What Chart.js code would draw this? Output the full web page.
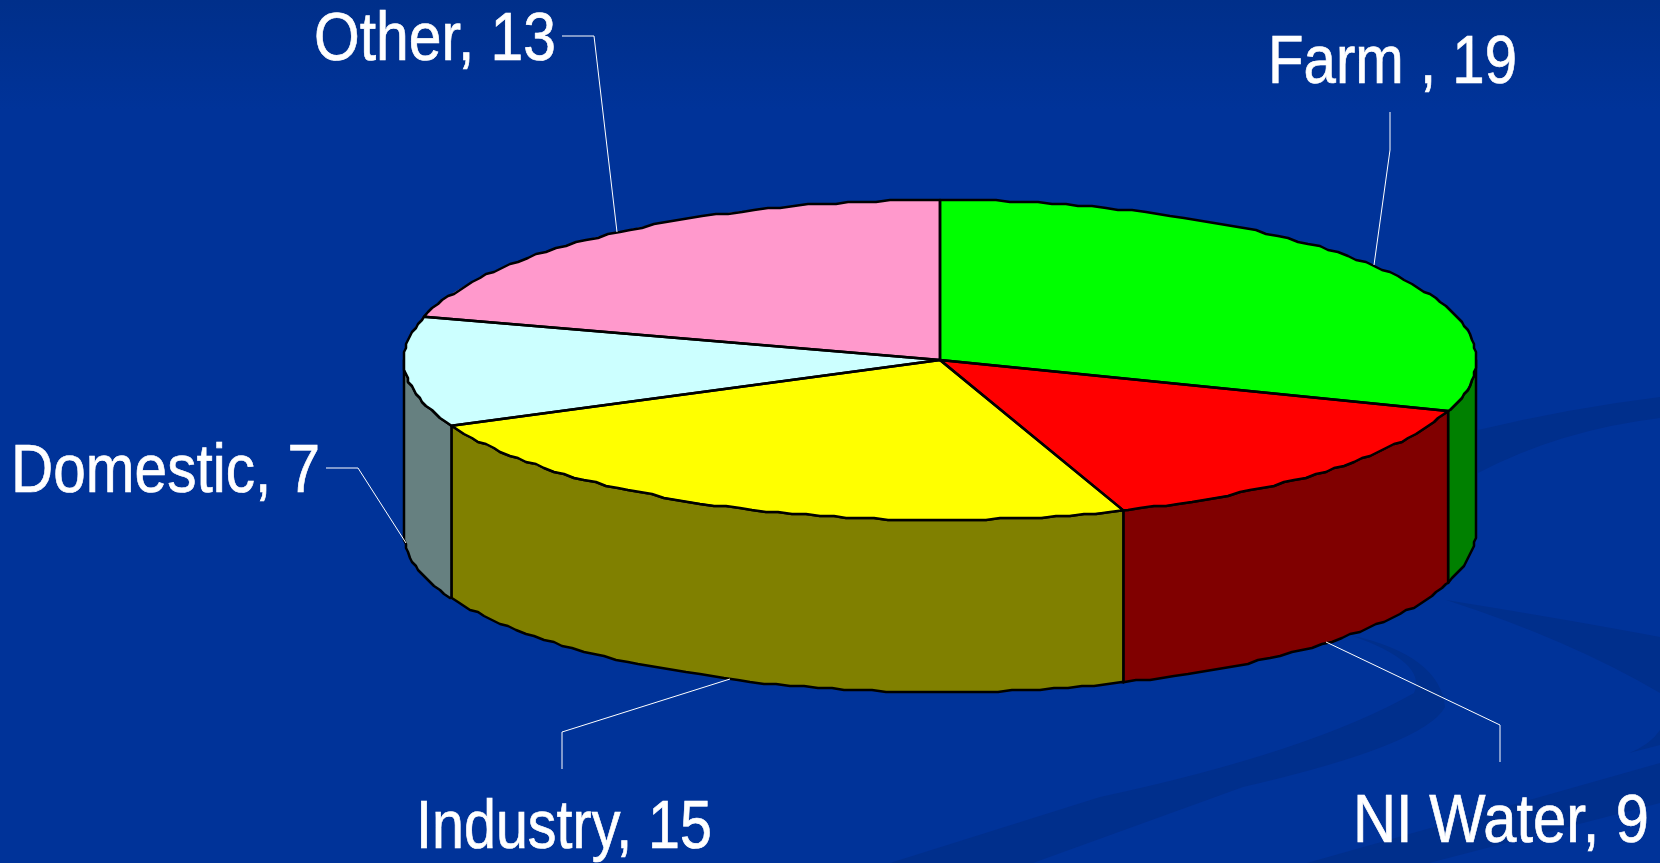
<!DOCTYPE html>
<html>
<head>
<meta charset="utf-8">
<style>
  html, body { margin: 0; padding: 0; background: #003399; overflow: hidden; }
  canvas { display: block; }
</style>
<script src="https://cdn.jsdelivr.net/npm/chart.js@4/dist/chart.umd.min.js"></script>
</head>
<body>
<canvas id="chart" width="1660" height="863"></canvas>
<script>
const categories = ["Farm ", "NI Water", "Industry", "Domestic", "Other"];
const values = [19, 9, 15, 7, 13];
const topColors = ["#00FF00", "#FF0000", "#FFFF00", "#CCFFFF", "#FF99CC"];
const wallColors = ["#008000", "#800000", "#808000", "#668080", "#804D66"];

// Label placement: baseline start, fitted width, then the leader line points
const labelX = [1268, 1353, 416, 11, 314];
const labelY = [83, 842, 848, 492, 60];
const labelW = [249, 296, 296, 309, 242];
const leaders = [
  [[1390, 112], [1390, 150], [1374, 265]],
  [[1500, 762], [1500, 725], [1326, 642]],
  [[562, 769], [562, 732], [730, 679]],
  [[326, 468], [358, 468], [406, 543]],
  [[562, 36], [594, 36], [617, 232]],
];

const RX = 536; // horizontal radius on screen
const RY = 160; // vertical radius, also the radius given to Chart.js
const DEPTH = 172;

// The old slide's rim is slightly stepped, so walk it in short snapped segments
function rim(ctx, cx, cy, a0, a1) {
  const step = ((a1 > a0 ? 1 : -1) * 1.5 * Math.PI) / 180;
  const n = Math.floor((a1 - a0) / step);
  for (let i = 1; i <= n; i++) {
    const a = a0 + step * i;
    const x = cx + RX * Math.cos(a);
    const y = cy + RY * Math.sin(a);
    ctx.lineTo(Math.round(x / 2) * 2, Math.round(y / 2) * 2);
  }
  ctx.lineTo(cx + RX * Math.cos(a1), cy + RY * Math.sin(a1));
}

// Slide background with the darker swooshes
const backdrop = {
  id: "backdrop",
  beforeDraw(chart) {
    const { ctx, width, height } = chart;
    ctx.save();
    const g = ctx.createLinearGradient(0, 0, 0, 110);
    g.addColorStop(0, "#002F8A");
    g.addColorStop(1, "#003399");
    ctx.fillStyle = g;
    ctx.fillRect(0, 0, width, height);

    ctx.fillStyle = "#002F8C";
    ctx.beginPath();
    ctx.moveTo(1478, 430);
    ctx.quadraticCurveTo(1570, 408, 1660, 397);
    ctx.lineTo(1660, 418);
    ctx.quadraticCurveTo(1560, 430, 1478, 473);
    ctx.closePath();
    ctx.fill();

    ctx.beginPath();
    ctx.moveTo(890, 863);
    ctx.lineTo(1100, 797);
    ctx.quadraticCurveTo(1310, 752, 1414, 693);
    ctx.quadraticCurveTo(1428, 662, 1350, 635);
    ctx.quadraticCurveTo(1440, 655, 1445, 707);
    ctx.quadraticCurveTo(1425, 745, 1243, 787);
    ctx.lineTo(1033, 863);
    ctx.closePath();
    ctx.fill();

    ctx.beginPath();
    ctx.moveTo(1307, 863);
    ctx.lineTo(1660, 763);
    ctx.lineTo(1660, 803);
    ctx.lineTo(1429, 863);
    ctx.closePath();
    ctx.fill();

    ctx.beginPath();
    ctx.moveTo(1446, 600);
    ctx.quadraticCurveTo(1570, 620, 1660, 637);
    ctx.lineTo(1660, 693);
    ctx.quadraticCurveTo(1570, 640, 1446, 600);
    ctx.closePath();
    ctx.fill();

    ctx.beginPath();
    ctx.moveTo(1629, 753);
    ctx.quadraticCurveTo(1650, 745, 1660, 730);
    ctx.lineTo(1660, 745);
    ctx.closePath();
    ctx.fill();
    ctx.restore();
  },
};

// Squashes the pie into a disc and gives it a side wall
const disc = {
  id: "disc",
  beforeDatasetsDraw(chart) {
    const { ctx } = chart;
    const arcs = chart.getDatasetMeta(0).data;
    const { x: cx, y: cy } = arcs[0];

    ctx.save();
    ctx.lineWidth = 2.5;
    ctx.strokeStyle = "#000";
    ctx.lineJoin = "round";
    arcs.forEach((arc, i) => {
      const a0 = Math.max(arc.startAngle, 0);
      const a1 = Math.min(arc.endAngle, Math.PI);
      if (a1 <= a0) return;
      ctx.beginPath();
      ctx.moveTo(cx + RX * Math.cos(a0), cy + RY * Math.sin(a0));
      rim(ctx, cx, cy, a0, a1);
      ctx.lineTo(cx + RX * Math.cos(a1), cy + DEPTH + RY * Math.sin(a1));
      rim(ctx, cx, cy + DEPTH, a1, a0);
      ctx.closePath();
      ctx.fillStyle = wallColors[i];
      ctx.fill();
      ctx.stroke();
    });
    ctx.restore();

    // the library draws the slices inside this stretch
    ctx.save();
    ctx.translate(cx, cy);
    ctx.scale(RX / RY, 1);
    ctx.translate(-cx, -cy);
  },
  afterDatasetsDraw(chart) {
    const { ctx } = chart;
    ctx.restore();

    const arcs = chart.getDatasetMeta(0).data;
    const { x: cx, y: cy } = arcs[0];
    ctx.save();
    ctx.lineWidth = 2.5;
    ctx.strokeStyle = "#000";
    ctx.lineJoin = "round";
    arcs.forEach((arc) => {
      ctx.beginPath();
      ctx.moveTo(cx, cy);
      ctx.lineTo(cx + RX * Math.cos(arc.startAngle), cy + RY * Math.sin(arc.startAngle));
      rim(ctx, cx, cy, arc.startAngle, arc.endAngle);
      ctx.closePath();
      ctx.stroke();
    });
    ctx.restore();
  },
  afterDraw(chart) {
    const { ctx } = chart;
    ctx.save();
    ctx.fillStyle = "#fff";
    ctx.strokeStyle = "#fff";
    ctx.lineWidth = 0.7;
    ctx.font = '68px "Liberation Sans", Arial, sans-serif';
    ctx.textAlign = "left";
    ctx.textBaseline = "alphabetic";
    categories.forEach((name, i) => {
      const text = name + ", " + values[i];
      ctx.fillText(text, labelX[i], labelY[i], labelW[i]);
      ctx.strokeText(text, labelX[i], labelY[i], labelW[i]);
    });
    ctx.lineWidth = 1;
    leaders.forEach((pts) => {
      ctx.beginPath();
      pts.forEach(([x, y], j) => (j ? ctx.lineTo(x, y) : ctx.moveTo(x, y)));
      ctx.stroke();
    });
    ctx.restore();
  },
};

new Chart(document.getElementById("chart"), {
  type: "pie",
  data: {
    labels: categories,
    datasets: [
      {
        data: values,
        backgroundColor: topColors,
        borderWidth: 0,
        clip: false,
      },
    ],
  },
  options: {
    responsive: false,
    animation: false,
    radius: RY,
    // centres the chart area on the disc
    layout: { padding: { left: 220, right: 0, top: 0, bottom: 143 } },
    plugins: { legend: { display: false }, tooltip: { enabled: false } },
    events: [],
  },
  plugins: [backdrop, disc],
});
</script>
</body>
</html>
